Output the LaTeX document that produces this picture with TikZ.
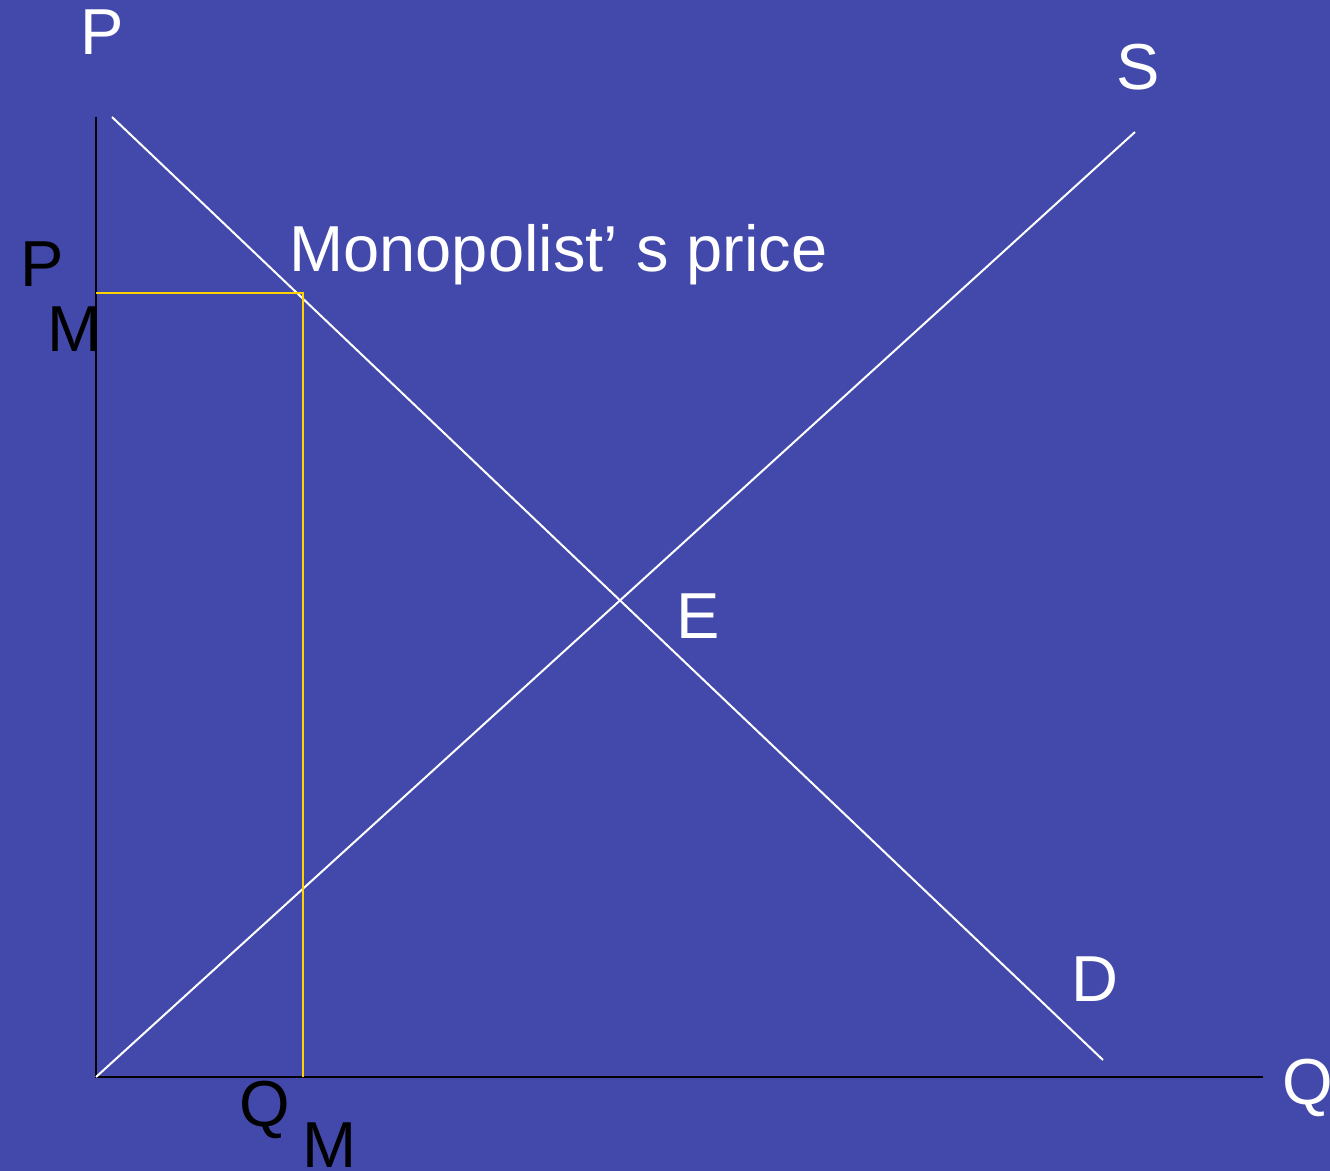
\documentclass[tikz,border=0pt]{standalone}
\usepackage{fontspec}
\setmainfont{Liberation Sans}
\usetikzlibrary{positioning}
\definecolor{slideblue}{RGB}{67,73,171}
\definecolor{pmline}{RGB}{255,210,0}

\begin{document}
\begin{tikzpicture}[x=0.5pt, y=-0.5pt,
    lbl/.style={anchor=base west, inner sep=0pt, font=\fontsize{32.5}{39}\selectfont},
    curve/.style={white, line width=1pt},
    axis/.style={black, line width=1.3pt}]
        \fill[slideblue] (0,0) rectangle (1330,1171);
        \useasboundingbox (0,0) rectangle (1330,1171);
        % axes
        \coordinate (o) at (96,1077);
        \coordinate (ptop) at (96,117);
        \coordinate (qend) at (1263,1077);
        \draw[axis] (ptop) -- (o) -- (qend);
        % demand and supply
        \coordinate (d0) at (112,117);
        \coordinate (d1) at (1103,1060);
        \coordinate (s1) at (1135,132);
        \draw[curve] (d0) -- (d1);
        \draw[curve] (o) -- (s1);
        % monopoly price and quantity
        \coordinate (pm) at (96,293);
        \coordinate (mp) at (303,293);
        \coordinate (qm) at (303,1077);
        \draw[pmline, line width=1pt] (pm) -- (mp) -- (qm);
        % labels
        \node (plab) [lbl, white] at (80,55) {P};
        \node (slab) [lbl, white] at (1116,90) {S};
        \node (mlab) [lbl, white] at (289,272) {Monopolist’ s price};
        \node (pmp) [lbl] at (20,287) {P};
        \node (pmm) [lbl] at (47,352) {M};
        \node (elab) [lbl, white] at (676,639) {E};
        \node (dlab) [lbl, white] at (1071,1001) {D};
        \node (qlab) [lbl, white] at (1282,1104) {Q};
        \node (qmq) [lbl] at (239,1126) {Q};
        \node (qmm) [lbl] at (302,1167) {M};
      \end{tikzpicture}
\end{document}
